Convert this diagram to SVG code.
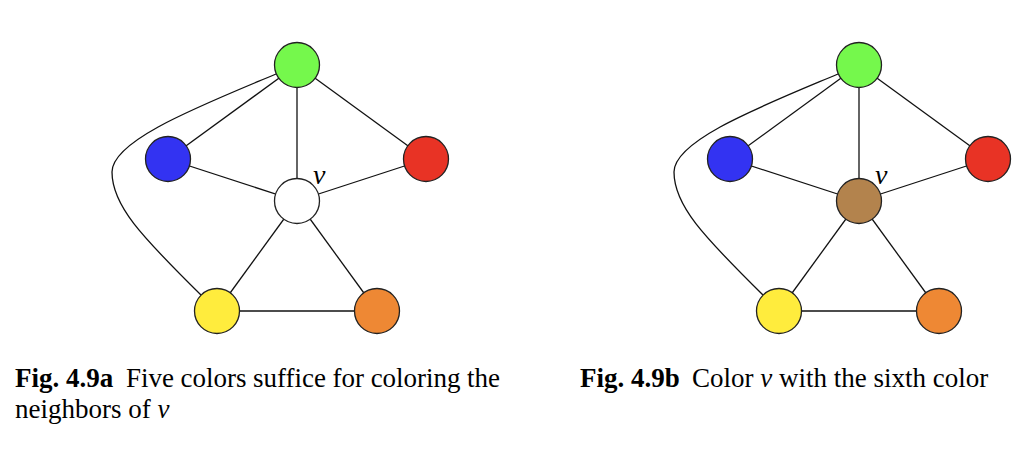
<svg xmlns="http://www.w3.org/2000/svg" width="1024" height="456" viewBox="0 0 1024 456">
<defs>
<style>
.edge{stroke:#111;stroke-width:1.3;fill:none}
.node{stroke:#222;stroke-width:1.3}
.lbl{font-family:"Liberation Serif","Times New Roman",serif;font-style:italic;font-size:28px;fill:#000}
.cap{font-family:"Liberation Serif","Times New Roman",serif;font-size:27px;fill:#000}
.b{font-weight:bold}
.i{font-style:italic}
</style>
</defs>
<rect width="1024" height="456" fill="#fff"/>

<!-- Diagram a -->
<g id="diagram-a">
  <g id="a-connectors">
    <line class="edge" x1="297" y1="65" x2="168" y2="159"/>
    <line class="edge" x1="297" y1="65" x2="297" y2="201"/>
    <line class="edge" x1="297" y1="65" x2="426" y2="159"/>
    <line class="edge" x1="168" y1="159" x2="297" y2="201"/>
    <line class="edge" x1="426" y1="159" x2="297" y2="201"/>
    <line class="edge" x1="297" y1="201" x2="217" y2="311"/>
    <line class="edge" x1="297" y1="201" x2="377" y2="311"/>
    <line class="edge" x1="217" y1="311" x2="377" y2="311"/>
    <path class="edge" d="M276,74 C200,106 112,140 112,172 C112,205 140,235 203,297"/>
  </g>
  <g id="a-green"><circle class="node" cx="297" cy="65" r="22.5" fill="#75F84C"/></g>
  <g id="a-blue"><circle class="node" cx="168" cy="159" r="22.5" fill="#3333F2"/></g>
  <g id="a-red"><circle class="node" cx="426" cy="159" r="22.5" fill="#E83325"/></g>
  <g id="a-v"><circle class="node" cx="297" cy="201" r="22.5" fill="#FFFFFF"/><text class="lbl" x="313" y="184">v</text></g>
  <g id="a-yellow"><circle class="node" cx="217" cy="311" r="22.5" fill="#FFEC3D"/></g>
  <g id="a-orange"><circle class="node" cx="377" cy="311" r="22.5" fill="#EE8834"/></g>
</g>

<!-- Diagram b -->
<g id="diagram-b">
  <g id="b-connectors">
    <line class="edge" x1="859" y1="65" x2="730" y2="159"/>
    <line class="edge" x1="859" y1="65" x2="859" y2="201"/>
    <line class="edge" x1="859" y1="65" x2="988" y2="159"/>
    <line class="edge" x1="730" y1="159" x2="859" y2="201"/>
    <line class="edge" x1="988" y1="159" x2="859" y2="201"/>
    <line class="edge" x1="859" y1="201" x2="779" y2="311"/>
    <line class="edge" x1="859" y1="201" x2="939" y2="311"/>
    <line class="edge" x1="779" y1="311" x2="939" y2="311"/>
    <path class="edge" d="M838,74 C762,106 674,140 674,172 C674,205 702,235 765,297"/>
  </g>
  <g id="b-green"><circle class="node" cx="859" cy="65" r="22.5" fill="#75F84C"/></g>
  <g id="b-blue"><circle class="node" cx="730" cy="159" r="22.5" fill="#3333F2"/></g>
  <g id="b-red"><circle class="node" cx="988" cy="159" r="22.5" fill="#E83325"/></g>
  <g id="b-v"><circle class="node" cx="859" cy="201" r="22.5" fill="#B3834D"/><text class="lbl" x="875" y="184">v</text></g>
  <g id="b-yellow"><circle class="node" cx="779" cy="311" r="22.5" fill="#FFEC3D"/></g>
  <g id="b-orange"><circle class="node" cx="939" cy="311" r="22.5" fill="#EE8834"/></g>
</g>

<!-- Captions -->
<g id="caption-a">
  <text class="cap b" x="15" y="387">Fig. 4.9a</text>
  <text class="cap" x="126" y="387" textLength="374" lengthAdjust="spacing">Five colors suffice for coloring the</text>
  <text class="cap" x="15" y="418">neighbors of <tspan class="i">v</tspan></text>
</g>
<g id="caption-b">
  <text class="cap b" x="580" y="387">Fig. 4.9b</text>
  <text class="cap" x="692" y="387">Color <tspan class="i">v</tspan> with the sixth color</text>
</g>
</svg>
